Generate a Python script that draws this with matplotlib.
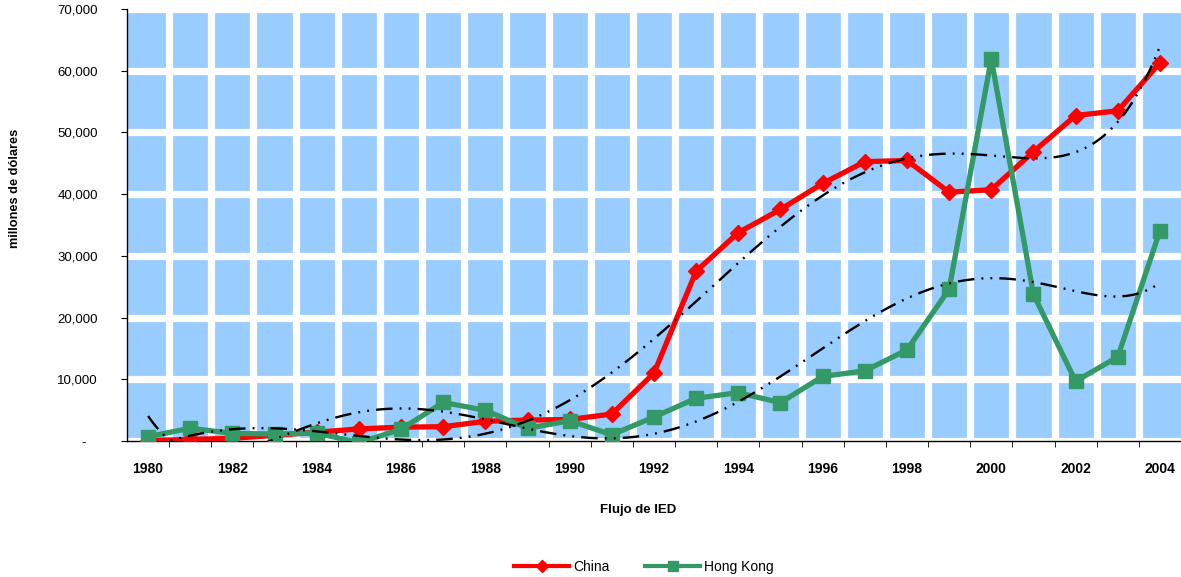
import numpy as np
import matplotlib
matplotlib.use("Agg")
import matplotlib.pyplot as plt
from matplotlib.ticker import FuncFormatter, FixedLocator
from matplotlib.lines import Line2D

plt.rcParams['font.family'] = ['Liberation Sans', 'DejaVu Sans']

years = list(range(1980, 2005))
china = [57, 265, 430, 916, 1419, 1956, 2244, 2314, 3194, 3393, 3487, 4366,
         11008, 27515, 33767, 37521, 41726, 45257, 45463, 40319, 40715,
         46878, 52743, 53505, 61264]
hong_kong = [710, 2063, 1237, 1131, 1288, -267, 1888, 6250, 4979, 2041, 3275,
             1021, 3887, 6930, 7828, 6213, 10460, 11368, 14765, 24578, 61924,
             23777, 9682, 13624, 34032]
yticks = [0, 10000, 20000, 30000, 40000, 50000, 60000, 70000]

fig = plt.figure(figsize=(11.81, 5.77), dpi=100)
ax = fig.add_axes([127/1181, 136/577, 1 - 127/1181, (568-136)/577])
ax.set_facecolor('#99CCFF')

n = len(years)
x = np.arange(1, n + 1)

# polynomial trend lines (order 6) computed from the data
xf = np.linspace(1, n, 400)
def trend(vals):
    c = np.polyfit(x, vals, 6)
    return np.polyval(c, xf)

ax.plot(x, china, color='#FF0000', lw=3.8, marker='D', ms=8.5, zorder=3,
        solid_joinstyle='miter')
ax.plot(x, hong_kong, color='#339966', lw=3.8, marker='s', ms=10, zorder=3)
ls = (0, (7, 3, 0.8, 3, 0.8, 3))
ax.plot(xf, trend(china), color='black', lw=1.7, ls=ls, zorder=4)
ax.plot(xf, trend(hong_kong), color='black', lw=1.7, ls=ls, zorder=4)

ax.set_xlim(0.5, n + 0.5)
ax.set_ylim(0, 70000)

# grid
ax.xaxis.set_minor_locator(FixedLocator(np.arange(1.5, n + 0.5, 1)))
ax.set_xticks(x[::2])
ax.set_xticklabels([str(y) for y in years[::2]], fontweight='bold', fontsize=10)
ax.tick_params(axis='x', which='major', length=0, pad=15)
ax.tick_params(axis='x', which='minor', length=4, direction='out', color='black')
ax.grid(True, which='minor', axis='x', color='white', lw=5.2)
ax.set_yticks(yticks)
ax.yaxis.set_major_formatter(FuncFormatter(lambda v, p: '-   ' if v == 0 else f'{int(v):,}'))
ax.tick_params(axis='y', length=4, direction='out', labelsize=9.5, pad=17)
ax.grid(True, which='major', axis='y', color='white', lw=5.2)
ax.set_axisbelow(True)

for s in ['top', 'right']:
    ax.spines[s].set_visible(False)
ax.spines['left'].set_linewidth(1)
ax.spines['bottom'].set_linewidth(1)

ax.set_ylabel('millones de dólares', fontweight='bold', fontsize=9.2)
ax.yaxis.set_label_coords(-(127-21)/1054, (441-188)/432)
ax.set_xlabel('Flujo de IED', fontweight='bold', fontsize=9.5)
ax.xaxis.set_label_coords((638-127)/1054, -(510-441)/432)
ax.xaxis.label.set_verticalalignment('center')

handles = [Line2D([], [], color='#FF0000', lw=3, marker='D', ms=6),
           Line2D([], [], color='#339966', lw=3, marker='s', ms=7)]
fig.legend(handles, ['China', 'Hong Kong'], loc='center', bbox_to_anchor=(644/1181, 1 - 567/577),
           ncol=2, frameon=False, fontsize=10, handlelength=4, columnspacing=2.5, handletextpad=0.3)

fig.savefig('out.png', dpi=100)
